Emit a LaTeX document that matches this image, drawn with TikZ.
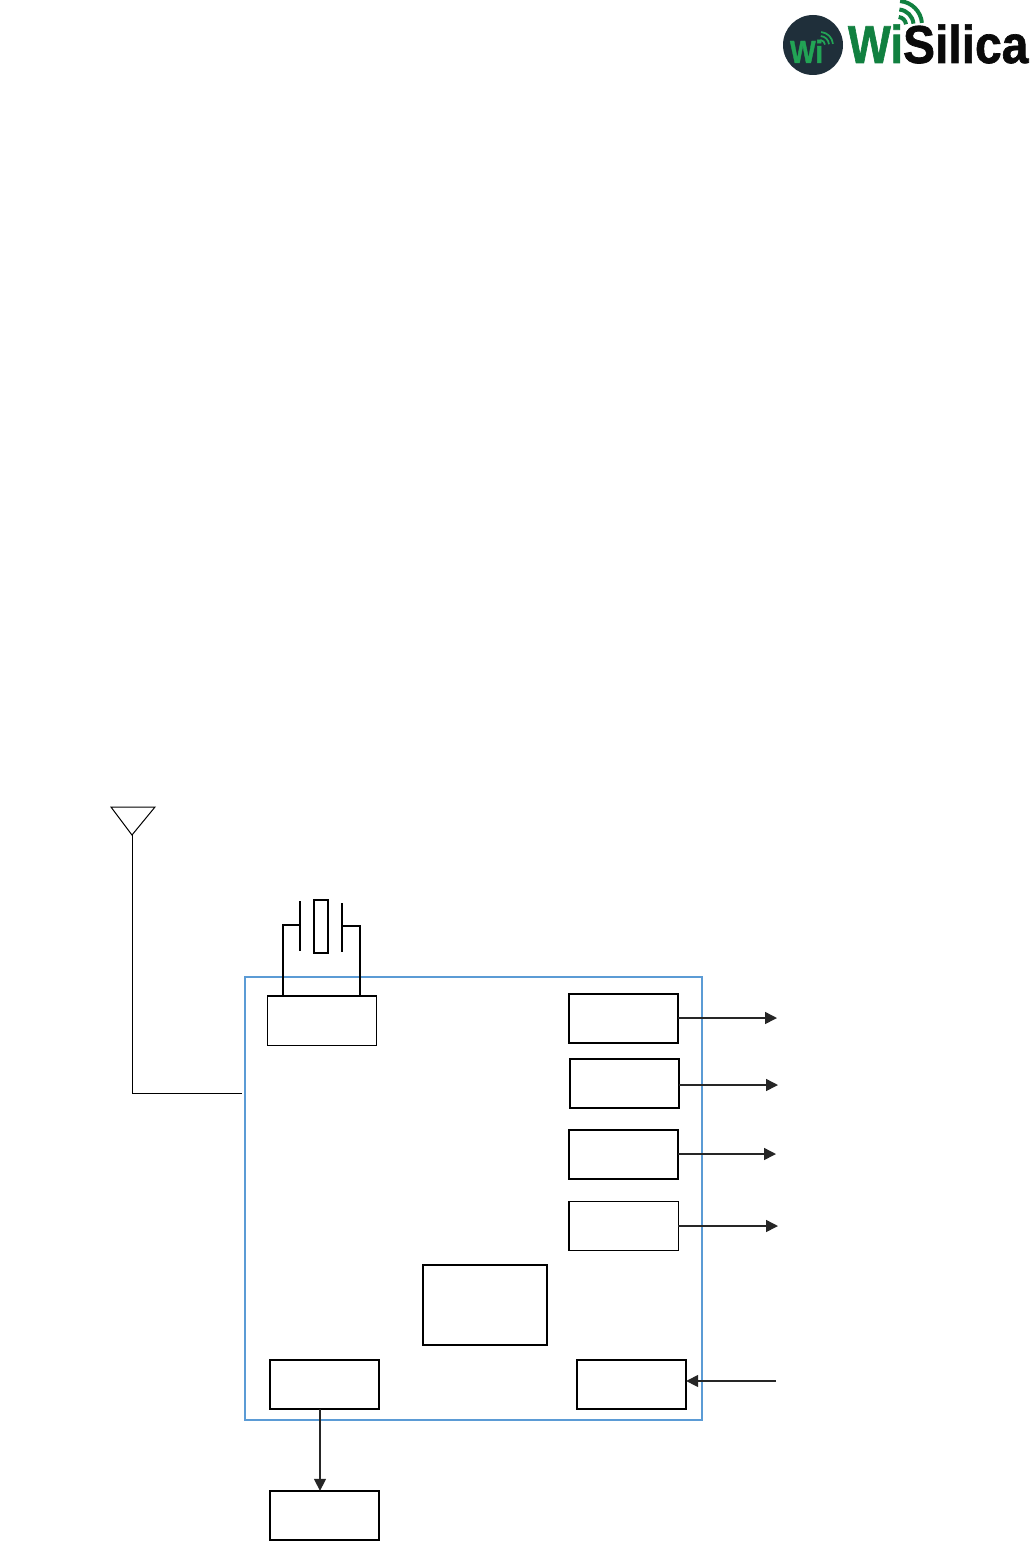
\documentclass[tikz,border=0pt]{standalone}
\usepackage{fontspec}
\setmainfont[BoldFeatures={FakeBold=1.3}]{Liberation Sans}
\usetikzlibrary{arrows.meta,positioning,calc}
\definecolor{wsBlue}{HTML}{5B9BD5}
\definecolor{wsInk}{HTML}{0A0A0A}
\definecolor{wsGreen}{HTML}{118040}
\definecolor{wsLight}{HTML}{22A455}
\definecolor{wsDark}{HTML}{1F2F3A}
\tikzset{
  blk/.style={draw=black, fill=white, line width=1.3pt, inner sep=0pt, outer sep=0pt, minimum width=82pt, minimum height=37pt},
  blkT/.style={blk, line width=1pt},
  arr/.style={-{Triangle[length=9pt,width=9pt]}, line width=1.1pt, draw=black!85},
  wire/.style={line width=0.75pt, draw=black},
  lead/.style={line width=1.2pt, draw=black},
  logoT/.style={inner sep=0pt, outer sep=0pt, anchor=base west, font=\bfseries\fontsize{40}{40}\selectfont},
}
\begin{document}
\begin{tikzpicture}[x=0.75pt,y=-0.75pt]
    \useasboundingbox (0,0) rectangle (1029,1541);
    % logo
    \fill[wsDark] (813,45) circle (30);
    \node[logoT, wsLight, font=\bfseries\fontsize{24}{24}\selectfont, xscale=0.85] (logoSmall) at (790,63) {Wi};
    \foreach \r in {5,9,13}{
        \draw[wsLight, line width=1.3pt] (820,45) ++(-85:\r) arc (-85:-5:\r);
    }
    \node[logoT, wsGreen, xscale=0.85] (logoWi) at (848,63) {Wi};
    \node[logoT, wsInk, xscale=0.9] (logoSilica) at (903,63) {Silica};
    \foreach \r in {8,15.5,24}{
        \draw[wsGreen, line width=3pt] (898,25) ++(-85:\r) arc (-85:-5:\r);
    }
    % module outline
    \node[draw=wsBlue, line width=2.2pt, inner sep=0pt, outer sep=0pt, minimum width=342.75pt, minimum height=332.25pt] (chip) at (473.5,1198.5) {};
    % blocks
    \node[blkT] (xtalBlk) at (322,1020.5) {};
    \node[blk] (out1) at (623.5,1018.5) {};
    \node[blk, line width=1.5pt] (out2) at (624.5,1083.5) {};
    \node[blk] (out3) at (623.5,1154.5) {};
    \node[blkT] (out4) at (623.5,1226) {};
    \node[blkT, minimum width=93pt, minimum height=60pt] (core) at (485,1305) {};
    \node[blk, line width=1.5pt] (txBlk) at (324.5,1384.5) {};
    \node[blk, line width=1.5pt] (inBlk) at (631.5,1384.5) {};
    \node[blk, line width=1.5pt] (ext) at (324.5,1515.5) {};
    % signal arrows
    \foreach \from/\yy/\xe in {out1/1018/777, out2/1085/778, out3/1154/776, out4/1226/778}{
        \coordinate (\from end) at (\xe,\yy);
        \draw[arr] (\from.east |- \from end) -- (\from end);
    }
    \coordinate (inStart) at (776,1381);
    \draw[arr] (inStart) -- (inBlk.east |- inStart);
    \coordinate (txDrop) at (320,1409);
    \draw[arr] (txBlk.south -| txDrop) -- (ext.north -| txDrop);
    % antenna
    \coordinate (antTip) at (132,835);
    \coordinate (antL) at (111,807);
    \coordinate (antR) at (155,807);
    \coordinate (antCorner) at (132,1093);
    \coordinate (antEnd) at (242,1093);
    \draw[wire] (antL) -- (antR) -- (antTip) -- cycle;
    \draw[wire] (antTip) -- (antCorner) -- (antEnd);
    % crystal
    \node[draw=black, line width=1.3pt, inner sep=0pt, outer sep=0pt, minimum width=10.5pt, minimum height=39.75pt] (xtal) at (321,926.5) {};
    \coordinate (plateLt) at (300,901);
    \coordinate (plateLb) at (300,951);
    \coordinate (plateRt) at (342,903);
    \coordinate (plateRb) at (342,952);
    \draw[lead] (plateLt) -- (plateLb);
    \draw[lead] (plateRt) -- (plateRb);
    \draw[lead] (283,996) |- (plateLt |- 0,925);
    \draw[lead] (360,996) |- (plateRt |- 0,926);
\end{tikzpicture}
\end{document}
